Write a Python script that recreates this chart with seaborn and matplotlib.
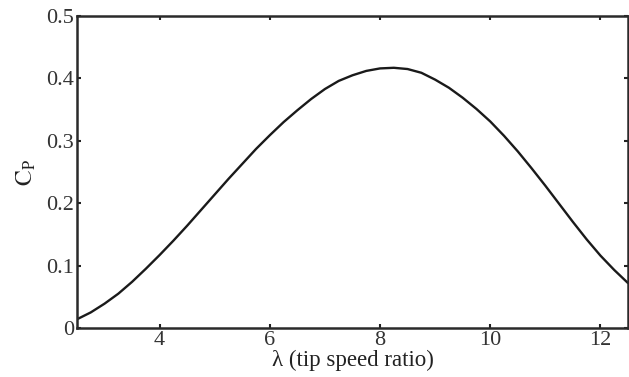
import matplotlib
matplotlib.use("Agg")
import matplotlib.pyplot as plt
import seaborn as sns
import pandas as pd

# Data
tsr = [2.5, 2.75, 3.0, 3.25, 3.5, 3.75, 4.0, 4.25, 4.5, 4.75, 5.0, 5.25, 5.5, 5.75,
       6.0, 6.25, 6.5, 6.75, 7.0, 7.25, 7.5, 7.75, 8.0, 8.25, 8.5, 8.75, 9.0, 9.25,
       9.5, 9.75, 10.0, 10.25, 10.5, 10.75, 11.0, 11.25, 11.5, 11.75, 12.0, 12.25, 12.5]
cp = [0.014, 0.025, 0.039, 0.055, 0.074, 0.095, 0.117, 0.140, 0.164, 0.189, 0.214,
      0.239, 0.263, 0.287, 0.309, 0.330, 0.349, 0.367, 0.383, 0.396, 0.405, 0.412,
      0.416, 0.417, 0.415, 0.409, 0.398, 0.385, 0.369, 0.351, 0.331, 0.308, 0.283,
      0.256, 0.228, 0.199, 0.170, 0.142, 0.116, 0.093, 0.072]
x_ticks = [4, 6, 8, 10, 12]
y_ticks = [0, 0.1, 0.2, 0.3, 0.4, 0.5]
y_tick_labels = ["0", "0.1", "0.2", "0.3", "0.4", "0.5"]

sns.set_theme(style="white")
plt.rcParams["font.family"] = ["Liberation Serif", "DejaVu Serif"]
plt.rcParams["mathtext.fontset"] = "stix"

df = pd.DataFrame({"tsr": tsr, "cp": cp})

fig = plt.figure(figsize=(6.29, 3.77), dpi=100)
ax = fig.add_axes([77 / 629, 1 - 328 / 377, (628 - 77) / 629, (328 - 16) / 377])

sns.lineplot(data=df, x="tsr", y="cp", ax=ax, color="#1a1a1a", linewidth=1.7)

ax.set_xlim(2.5, 12.5)
ax.set_ylim(0, 0.5)
ax.set_xticks(x_ticks)
ax.set_xticklabels([str(t) for t in x_ticks])
ax.set_yticks(y_ticks)
ax.set_yticklabels(y_tick_labels)

ax.tick_params(axis="both", which="both", direction="in", length=3, width=1.5,
               color="#222222", labelsize=16, labelcolor="#333333",
               top=True, right=True, bottom=True, left=True, pad=2)
for s in ax.spines.values():
    s.set_color("#2a2a2a")
    s.set_linewidth(1.8)
    s.set_visible(True)

ax.set_xlabel("λ (tip speed ratio)", fontsize=16.5, color="#222222", labelpad=0)
ax.set_ylabel(r"$\mathrm{C_P}$", fontsize=17, color="#222222", labelpad=6)

fig.savefig("out.png", dpi=100, facecolor="white")
